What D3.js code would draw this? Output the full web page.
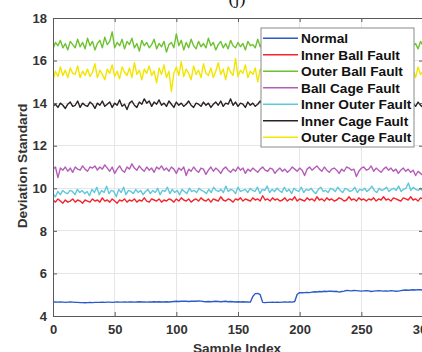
<!DOCTYPE html>
<html><head><meta charset="utf-8">
<script src="https://cdn.jsdelivr.net/npm/d3@7"></script>
<style>html,body{margin:0;padding:0;background:#fff;}svg{display:block;}</style>
</head><body>
<svg id="chart" width="422" height="352"></svg>
<script>
const seriesNames = ["Normal","Inner Ball Fault","Outer Ball Fault","Ball Cage Fault","Inner Outer Fault","Inner Cage Fault","Outer Cage Fault"];
const xTicks = [0,50,100,150,200,250,300];
const yTicks = [4,6,8,10,12,14,16,18];

const normal = [4.65,4.66,4.65,4.66,4.65,4.64,4.65,4.66,4.65,4.64,
4.64,4.63,4.63,4.62,4.63,4.64,4.63,4.64,4.64,4.64,
4.65,4.64,4.65,4.65,4.64,4.65,4.66,4.65,4.65,4.66,
4.65,4.66,4.66,4.65,4.66,4.67,4.66,4.66,4.65,4.66,
4.66,4.67,4.66,4.67,4.66,4.66,4.67,4.66,4.67,4.68,
4.69,4.68,4.69,4.70,4.69,4.68,4.69,4.70,4.69,4.71,
4.70,4.68,4.67,4.68,4.67,4.68,4.69,4.68,4.67,4.68,
4.69,4.67,4.68,4.67,4.66,4.67,4.66,4.67,4.66,4.66,
4.65,4.92,5.05,5.06,5.0,4.64,
4.63,4.64,4.64,4.65,4.64,4.65,4.64,4.65,4.66,4.65,4.66,4.65,4.68,
5.02,5.1,
5.09,5.1,5.11,5.1,5.12,5.14,5.13,5.15,5.14,5.16,5.15,5.17,5.16,5.15,5.16,5.12,5.15,5.17,5.2,5.19,5.18,5.2,5.19,5.18,5.17,5.18,5.19,5.18,5.15,5.17,5.18,5.19,5.18,5.17,5.18,5.17,5.19,5.18,5.16,5.17,5.19,5.21,5.22,5.21,5.22,5.23,5.22,5.24,5.23,5.22];

const innerBall = [9.45,9.35,9.5,9.4,9.3,9.45,9.35,9.4,9.5,9.35,9.45,9.4,9.3,9.45,9.4,9.35,9.5,9.4,9.45,9.35,9.55,9.4,9.45,9.35,9.5,9.4,9.3,9.45,9.4,9.5,9.35,9.45,9.4,9.5,9.35,9.45,9.4,9.55,9.4,9.35,9.5,9.45,9.4,9.5,9.35,9.45,9.4,9.5,9.45,9.35,9.5,9.4,9.55,9.45,9.4,9.5,9.35,9.45,9.5,9.4,9.55,9.45,9.4,9.5,9.35,9.5,9.45,9.4,9.6,9.45,9.4,9.5,9.45,9.35,9.5,9.45,9.55,9.4,9.5,9.45,9.4,9.55,9.45,9.5,9.4,9.65,9.45,9.5,9.4,9.55,9.45,9.5,9.4,9.45,9.55,9.4,9.5,9.45,9.6,9.4,9.5,9.45,9.4,9.55,9.45,9.5,9.4,9.6,9.45,9.5,9.4,9.55,9.45,9.5,9.4,9.45,9.55,9.5,9.4,9.45,9.6,9.45,9.5,9.4,9.55,9.45,9.5,9.4,9.5,9.45,9.55,9.4,9.5,9.45,9.6,9.45,9.5,9.4,9.55,9.5,9.45,9.4,9.55,9.5,9.45,9.6,9.45,9.5,9.4,9.55,9.5];

const outerBall = [16.55,16.85,16.7,16.95,16.6,16.8,16.5,16.9,16.75,16.6,17.0,16.65,16.85,16.55,17.05,16.7,16.9,16.5,16.8,16.95,16.6,17.1,16.75,16.9,17.35,16.6,16.85,16.7,17.0,16.55,16.9,16.75,17.05,16.6,16.8,16.45,16.95,16.7,16.85,16.6,16.75,17.0,16.55,16.8,16.65,16.9,16.4,16.75,16.85,16.6,17.25,16.7,16.95,16.5,16.85,16.6,17.0,16.7,16.55,16.9,16.65,16.8,16.6,17.05,16.7,16.85,16.5,16.75,16.9,16.6,16.8,16.55,16.95,16.7,16.6,16.85,16.65,16.8,16.5,16.9,16.7,16.75,16.6,17.0,16.65,16.85,16.55,16.8,16.7,16.95,16.6,16.75,16.85,16.5,16.9,16.65,16.8,16.7,17.05,16.6,16.85,16.55,16.75,16.9,16.65,16.8,16.6,16.95,16.7,16.55,16.85,16.7,16.9,16.6,16.8,16.75,17.0,16.6,16.85,16.5,16.75,16.95,16.65,16.8,16.7,16.9,16.55,16.85,16.7,17.1,16.6,16.8,16.75,16.95,16.65,16.85,16.5,16.9,16.7,16.8,16.6,17.0,16.75,16.85,16.6,16.95,16.7,16.8,16.55,16.9,16.7];

const ballCage = [10.9,11.0,10.5,10.95,10.85,11.0,10.8,10.95,10.75,11.0,10.9,10.85,11.05,10.9,10.8,11.0,10.95,11.05,10.85,11.0,10.9,11.1,10.95,10.8,11.0,10.7,10.9,11.05,10.85,10.75,11.0,10.9,11.15,10.95,10.85,11.05,10.9,10.8,11.0,10.85,10.95,10.75,11.0,10.9,11.05,10.85,10.95,10.8,11.0,10.9,10.7,10.95,10.85,11.0,10.6,10.9,10.8,11.0,10.85,10.75,10.95,10.9,10.65,10.85,11.0,10.8,10.95,10.85,10.7,10.9,11.0,10.85,10.75,10.9,10.8,11.0,10.85,10.95,10.7,10.9,10.8,10.95,10.85,10.75,10.9,11.0,10.85,10.8,10.95,10.9,10.7,10.85,10.95,10.8,10.9,10.75,10.85,11.0,10.9,10.8,10.95,10.85,10.6,10.9,11.0,10.85,10.95,11.05,10.9,10.8,11.0,10.85,10.75,10.9,10.95,10.85,10.7,10.9,10.8,11.0,10.95,10.85,10.9,10.55,10.8,10.95,11.0,10.85,10.9,11.05,10.8,10.95,10.85,10.75,10.9,11.0,10.85,10.95,10.8,10.9,10.7,10.85,10.95,10.8,10.9,10.75,10.85,10.6,10.8,10.7,10.6];

const innerOuter = [9.75,9.6,9.85,9.7,9.9,9.8,9.75,9.9,9.85,9.7,9.95,9.8,9.9,9.75,9.85,9.65,9.95,9.8,10.05,9.7,9.9,9.8,10.1,9.75,9.9,9.85,9.6,9.95,9.8,10.05,9.7,9.9,9.85,9.75,9.95,9.8,9.9,9.7,9.85,9.95,9.75,9.9,9.8,10.0,9.7,9.9,9.85,10.05,9.75,9.95,9.8,9.9,9.7,9.95,9.85,9.75,10.0,9.85,9.9,9.8,10.0,9.9,9.85,9.75,9.95,9.8,10.05,9.9,9.85,9.95,9.8,10.1,9.85,9.95,9.9,9.75,10.05,9.85,9.9,9.95,9.8,10.0,9.9,9.85,10.05,9.75,9.95,9.9,10.1,9.8,9.95,9.85,10.0,9.9,9.8,10.05,9.85,9.95,9.75,10.0,9.9,9.85,10.05,9.8,9.95,9.9,10.0,9.85,9.75,9.95,10.05,9.85,9.9,9.8,10.0,9.95,9.85,10.05,9.9,9.8,10.0,9.95,9.85,9.9,10.05,9.8,9.95,9.9,10.0,9.85,9.95,10.1,9.9,9.8,10.0,9.9,9.95,10.05,9.85,9.95,10.0,9.9,10.1,9.85,9.95,10.0,10.25,9.9,10.05,9.95,9.9,10.0,9.85];

const innerCage = [13.85,13.95,13.8,14.0,13.9,13.75,13.95,14.05,13.85,13.9,14.1,13.8,14.0,13.9,13.85,14.05,13.95,13.75,14.0,13.9,14.1,13.85,13.95,14.05,13.8,14.0,13.9,14.15,13.85,13.95,13.7,14.0,14.1,13.9,13.8,14.05,13.95,14.2,14.0,14.1,13.85,14.05,13.95,14.15,13.9,14.0,13.85,14.1,13.95,13.8,14.05,13.9,14.0,13.85,13.95,14.1,13.9,13.8,14.0,13.95,13.85,14.05,13.9,14.0,13.8,13.95,14.05,13.9,14.1,13.85,14.0,13.95,14.2,13.9,14.05,13.85,14.0,13.95,13.8,14.05,13.9,14.0,13.85,13.95,14.1,13.9,14.0,13.85,14.05,13.95,13.8,14.0,13.9,14.1,13.95,13.85,14.05,14.2,13.9,14.0,13.85,13.95,14.1,13.9,13.8,14.0,13.95,14.05,13.85,14.0,13.9,13.95,14.1,13.85,14.0,13.9,14.05,13.8,13.95,14.0,13.9,14.1,13.85,14.0,13.95,14.05,13.9,13.8,14.0,13.95,14.1,13.85,14.0,13.9,14.05,13.95,13.85,14.0,13.9,14.1,13.95,14.0,13.85,14.05,13.9,13.95,14.0,13.85,14.05,13.9,13.8];

const outerCage = [15.1,15.5,15.25,15.7,15.3,15.55,15.2,15.65,15.4,15.35,15.75,15.2,15.5,15.3,15.6,15.25,15.45,15.85,15.2,15.55,15.35,15.1,15.6,15.4,15.8,15.25,15.5,15.15,15.7,15.45,15.3,15.65,15.2,15.9,15.35,15.55,15.1,15.6,15.4,15.75,15.3,15.5,14.95,15.65,15.35,15.8,15.2,15.5,14.55,15.4,15.7,15.3,15.95,15.25,15.6,15.4,15.1,15.75,15.35,15.55,15.2,15.85,15.4,15.3,15.65,15.2,15.5,15.9,15.35,15.6,15.1,15.7,15.45,15.3,16.1,15.25,15.55,15.4,15.8,15.2,15.5,15.35,15.65,15.0,15.6,15.4,15.75,15.3,15.5,15.2,15.85,15.45,15.3,15.6,15.15,15.7,15.4,15.55,15.25,15.9,15.35,15.5,15.2,15.65,15.4,15.8,15.3,15.55,15.15,15.7,15.45,15.35,15.6,15.2,15.85,15.4,15.5,15.25,15.7,15.35,15.6,15.1,15.8,15.45,15.3,15.65,15.2,15.55,15.4,15.95,15.3,15.6,15.25,15.75,15.4,15.5,15.15,15.7,15.35,15.6,15.2,15.85,15.45,15.3,15.65,15.4,15.55,15.2,15.7,15.35,15.5];

const seriesValues = [normal, innerBall, outerBall, ballCage, innerOuter, innerCage, outerCage];
const seriesColors = ["#2a5bc8","#f5232b","#6cc230","#b45cb8","#5fc8dc","#2a2222","#f2e600"];

const svg = d3.select("#chart");
const L = 53, R = 423, T = 18, B = 316;
const x = d3.scaleLinear().domain([0,300]).range([L,R]);
const y = d3.scaleLinear().domain([4,18]).range([B,T]);
const axisCol = "#5a5a5a", textCol = "#333";
const font = "'Liberation Sans', Arial, sans-serif";

svg.append("defs").append("clipPath").attr("id","clip")
  .append("rect").attr("x",L).attr("y",T).attr("width",R-L).attr("height",B-T);

// grid
const grid = svg.append("g");
grid.selectAll(".gx").data(xTicks).join("line")
  .attr("x1",d=>x(d)).attr("x2",d=>x(d)).attr("y1",T).attr("y2",B)
  .attr("stroke","#e6e6e6").attr("stroke-width",1).attr("shape-rendering","crispEdges");
grid.selectAll(".gy").data(yTicks).join("line")
  .attr("x1",L).attr("x2",R).attr("y1",d=>y(d)).attr("y2",d=>y(d))
  .attr("stroke","#e6e6e6").attr("stroke-width",1).attr("shape-rendering","crispEdges");

// lines
const lg = svg.append("g").attr("clip-path","url(#clip)");
seriesValues.forEach((vals,k)=>{
  const line = d3.line().x((v,i)=>x(i*300/(vals.length-1))).y(v=>y(v));
  lg.append("path").datum(vals).attr("d", line)
    .attr("fill","none").attr("stroke",seriesColors[k]).attr("stroke-width",1.4).attr("stroke-linejoin","round");
});

// axes
const xAxis = d3.axisBottom(x).tickValues(xTicks).tickSizeInner(-4).tickSizeOuter(0).tickPadding(9);
svg.append("g").attr("transform",`translate(0,${B})`).call(xAxis);
const yAxis = d3.axisLeft(y).tickValues(yTicks).tickSizeInner(-4).tickSizeOuter(0).tickPadding(6);
svg.append("g").attr("transform",`translate(${L},0)`).call(yAxis);
const xTop = d3.axisTop(x).tickValues(xTicks).tickSizeInner(-4).tickSizeOuter(0).tickFormat("");
svg.append("g").attr("transform",`translate(0,${T})`).call(xTop);
const yRight = d3.axisRight(y).tickValues(yTicks).tickSizeInner(-4).tickSizeOuter(0).tickFormat("");
svg.append("g").attr("transform",`translate(${R},0)`).call(yRight);
svg.selectAll(".domain").attr("stroke",axisCol).attr("stroke-width",1);
svg.selectAll(".tick line").attr("stroke",axisCol);
svg.selectAll(".tick text").attr("fill",textCol).style("font-family",font).style("font-size","13px").style("font-weight","bold");

// legend
const lgd = svg.append("g");
lgd.append("rect").attr("x",261).attr("y",28).attr("width",153).attr("height",119)
  .attr("fill","#fff").attr("stroke","#8a8a8a").attr("stroke-width",1);
seriesNames.forEach((n,k)=>{
  const yy = 38.3 + k*16.5;
  lgd.append("line").attr("x1",263).attr("x2",298).attr("y1",yy).attr("y2",yy)
    .attr("stroke",seriesColors[k]).attr("stroke-width",1.6);
  lgd.append("text").attr("x",301).attr("y",yy).attr("dy","0.35em").text(n)
    .style("font-family",font).style("font-size","13.7px").style("font-weight","bold").attr("fill","#111");
});

// labels
svg.append("text").attr("x",237).attr("y",4).attr("text-anchor","middle").text("(j)")
  .style("font-family","'Liberation Serif', 'Times New Roman', serif").style("font-size","18px").attr("fill","#111");
svg.append("text").attr("x",237).attr("y",353).attr("text-anchor","middle").text("Sample Index")
  .style("font-family",font).style("font-size","13.7px").style("font-weight","bold").attr("fill",textCol);
svg.append("text").attr("transform","translate(27,166) rotate(-90)").attr("text-anchor","middle").text("Deviation Standard")
  .style("font-family",font).style("font-size","13.7px").style("font-weight","bold").attr("fill",textCol);
</script>
</body></html>
